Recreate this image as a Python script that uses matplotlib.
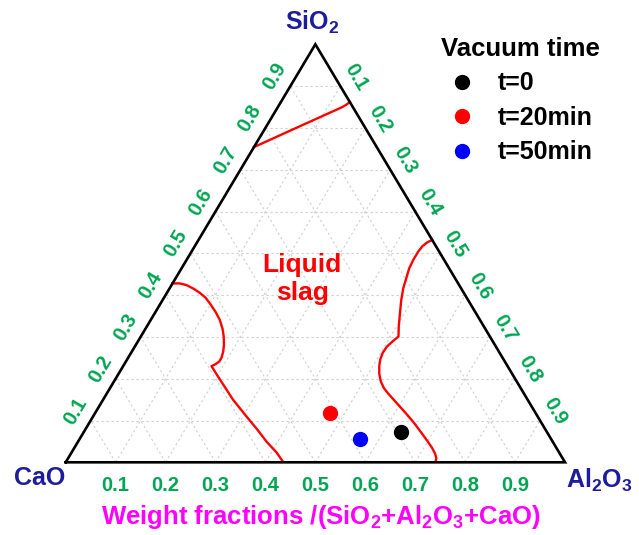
import numpy as np
import matplotlib
matplotlib.use('Agg')
import matplotlib.pyplot as plt

plt.rcParams['font.family'] = ['Liberation Sans', 'DejaVu Sans']
plt.rcParams['font.weight'] = 'bold'
plt.rcParams['mathtext.fontset'] = 'custom'
plt.rcParams['mathtext.rm'] = 'Liberation Sans:bold'
plt.rcParams['mathtext.default'] = 'rm'

# ternary data: (Al2O3 fraction, SiO2 fraction), CaO = 1 - both
top_al = [0.0, 0.067, 0.128, 0.134, 0.138]
top_si = [0.754, 0.804, 0.849, 0.855, 0.862]

left_al = [0.0, 0.014, 0.030, 0.047, 0.065, 0.083, 0.101, 0.120, 0.138, 0.154, 0.166,
           0.176, 0.183, 0.187, 0.187, 0.183, 0.177, 0.211, 0.260, 0.308, 0.345, 0.378, 0.410, 0.436]
left_si = [0.428, 0.428, 0.424, 0.416, 0.406, 0.394, 0.378, 0.360, 0.341, 0.320, 0.301,
           0.282, 0.265, 0.250, 0.241, 0.235, 0.230, 0.197, 0.150, 0.109, 0.078, 0.049, 0.024, 0.0]

right_al = [0.468, 0.461, 0.456, 0.454, 0.454, 0.456, 0.462, 0.468, 0.478, 0.491, 0.505,
            0.516, 0.510, 0.505, 0.504, 0.507, 0.513, 0.522, 0.534, 0.548, 0.563, 0.593,
            0.623, 0.652, 0.680, 0.700, 0.717, 0.730, 0.738, 0.740]
right_si = [0.532, 0.526, 0.517, 0.504, 0.484, 0.464, 0.440, 0.416, 0.388, 0.357, 0.324,
            0.301, 0.289, 0.277, 0.262, 0.246, 0.230, 0.212, 0.194, 0.178, 0.165, 0.141,
            0.117, 0.093, 0.068, 0.050, 0.034, 0.020, 0.009, 0.0]

point_labels = ['t=0', 't=20min', 't=50min']
point_colors = ['black', 'red', 'blue']
point_al = [0.635, 0.471, 0.562]
point_si = [0.072, 0.117, 0.056]

ticks = [0.1, 0.2, 0.3, 0.4, 0.5, 0.6, 0.7, 0.8, 0.9]
tick_labels = ['0.1', '0.2', '0.3', '0.4', '0.5', '0.6', '0.7', '0.8', '0.9']


def to_xy(al, si):
    al = np.asarray(al, dtype=float)
    si = np.asarray(si, dtype=float)
    return al + si / 2, si


green = '#00a651'
navy = '#1c1c9c'

fig = plt.figure(figsize=(6.39, 5.35), dpi=100)
ax = fig.add_axes([65.7 / 639, (535 - 462.3) / 535, 499.3 / 639, 418 / 535])
ax.set_xlim(0, 1)
ax.set_ylim(0, 1)
ax.axis('off')

# grid lines
for k in ticks:
    gk = dict(color='#cfcfcf', lw=0.8, ls=(0, (2, 2.5)), zorder=1)
    x, y = to_xy([0, 1 - k], [k, k])
    ax.plot(x, y, **gk)
    x, y = to_xy([k, k], [0, 1 - k])
    ax.plot(x, y, **gk)
    x, y = to_xy([1 - k, 0], [0, 1 - k])
    ax.plot(x, y, **gk)

# triangle
x, y = to_xy([0, 1, 0, 0], [0, 0, 1, 0])
ax.plot(x, y, color='black', lw=1.9, zorder=3, clip_on=False, solid_joinstyle='miter')

# phase boundaries
for al, si in [(top_al, top_si), (left_al, left_si), (right_al, right_si)]:
    x, y = to_xy(al, si)
    ax.plot(x, y, color='red', lw=1.7, zorder=2, solid_joinstyle='round')

# data points
for lab, c, al, si in zip(point_labels, point_colors, point_al, point_si):
    x, y = to_xy([al], [si])
    ax.plot(x, y, 'o', color=c, ms=10, ls='none', label=lab, zorder=4)

# tick labels along edges
for t, lab in zip(ticks, tick_labels):
    ax.annotate(lab, xy=to_xy(t, 0), xytext=(0, -17), textcoords='offset points',
                ha='center', va='center', color=green, fontsize=14.5)
    ax.annotate(lab, xy=to_xy(0, t), xytext=(-11, 7), textcoords='offset points',
                ha='center', va='center', color=green, fontsize=14.5, rotation=59.4)
    ax.annotate(lab, xy=to_xy(t, 1 - t), xytext=(11, 6.5), textcoords='offset points',
                ha='center', va='center', color=green, fontsize=14.5, rotation=-59.4)

# corner labels
ax.annotate('SiO$_2$', xy=to_xy(0, 1), xytext=(-2, 16), textcoords='offset points',
            ha='center', va='center', color=navy, fontsize=18)
ax.annotate('CaO', xy=to_xy(0, 0), xytext=(-18.5, -11.5), textcoords='offset points',
            ha='center', va='center', color=navy, fontsize=18)
ax.annotate('Al$_2$O$_3$', xy=to_xy(1, 0), xytext=(25, -13), textcoords='offset points',
            ha='center', va='center', color=navy, fontsize=18)

ax.text(0.4733, 0.4385, 'Liquid\nslag', color='red', fontsize=19, ha='center',
        va='center', linespacing=1.2)

fig.text(321 / 639, 1 - 517 / 535, 'Weight fractions /(SiO$_2$+Al$_2$O$_3$+CaO)',
         color='magenta', fontsize=18.5, ha='center', va='center')

leg = ax.legend(loc='upper left', bbox_to_anchor=(441 / 639, 1 - 37 / 535),
                bbox_transform=fig.transFigure, frameon=False, borderpad=0,
                fontsize=18, title='Vacuum time', alignment='left',
                title_fontproperties={'size': 18.5, 'weight': 'bold'},
                handlelength=1.7, handletextpad=0.55, labelspacing=0.42,
                borderaxespad=0)

fig.savefig('out.png', dpi=100)
